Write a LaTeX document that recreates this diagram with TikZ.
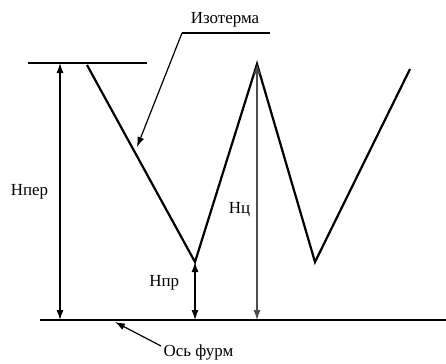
\documentclass[tikz,border=0pt]{standalone}
\usepackage{fontspec}
\setmainfont{Liberation Serif}
\usetikzlibrary{calc}
\usetikzlibrary{arrows.meta}

\begin{document}
\begin{tikzpicture}[>={Latex[length=10bp,width=7bp]}, x=1bp, y=-1bp, line width=1.2bp, font=\fontsize{17}{19}\selectfont]
\useasboundingbox (0,0) rectangle (446,363);
\coordinate (top_l) at (28,63);
\coordinate (top_r) at (147,63);
\coordinate (axis_l) at (40,320);
\coordinate (axis_r) at (446,320);
\coordinate (hper_top) at (60,63);
\coordinate (hper_bot) at (60,320);
\coordinate (zz_1) at (87,65);
\coordinate (zz_2) at (195,262);
\coordinate (zz_3) at (257,64);
\coordinate (zz_4) at (315,262);
\coordinate (zz_5) at (410,69);
\coordinate (hpr_bot) at (195,320);
\coordinate (hc_bot) at (257,320);
\coordinate (iso_l) at (182,33);
\coordinate (iso_r) at (270,33);
\coordinate (iso_tip) at (137,147);
\coordinate (os_tail) at (161,346);
\coordinate (os_tip) at (115,322);
\node[name=iso_text, anchor=south] at (225,31) {Изотерма};
\node[name=os_text, anchor=west, inner sep=1bp] at (162,352) {Ось фурм};

\draw(top_l) -- (top_r);
\draw[line width=1.4bp](axis_l) -- (axis_r);
\draw[line width=2.2bp, line join=miter](zz_1) -- (zz_2) -- (zz_3) -- (zz_4) -- (zz_5);
\draw(hper_top) edge[<->]node[left, xshift=-8bp]{Нпер}(hper_bot);
\draw(zz_3) edge[<->, draw=gray!60!black]node[left, pos=0.57, black, xshift=-3bp]{Нц}(hc_bot);
\draw(zz_2) edge[<->]node[left, pos=0.35, xshift=-12bp]{Нпр}(hpr_bot);
\draw(iso_r) -- (iso_l) edge[->](iso_tip);
\draw(os_tail) edge[->](os_tip);
\end{tikzpicture}
\end{document}
